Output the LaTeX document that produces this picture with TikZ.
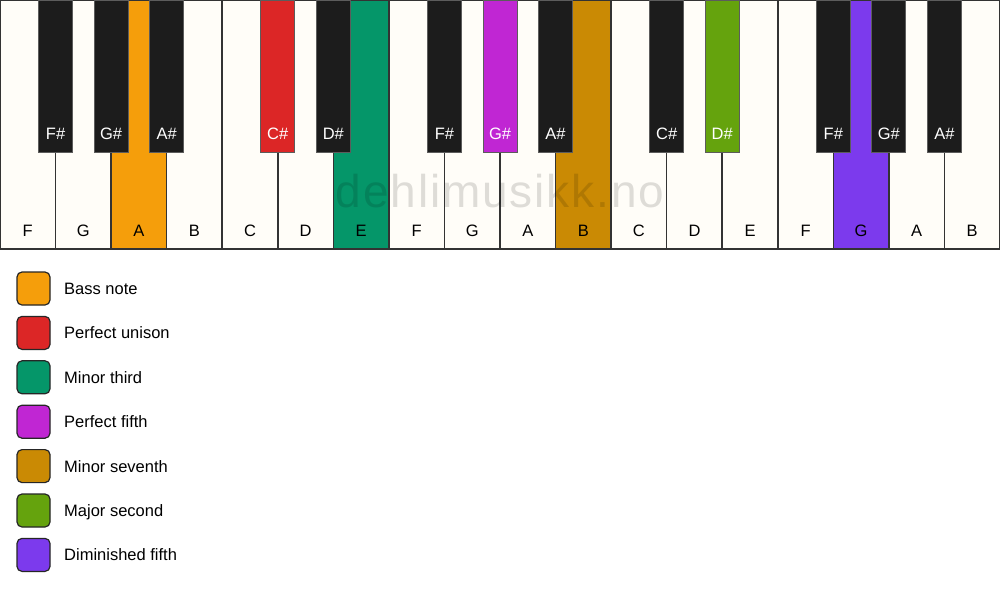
\documentclass[tikz,border=0pt]{standalone}
\usepackage{fontspec}
\setmainfont{Liberation Sans}
\newfontfamily\wmfont[LetterSpace=4]{Liberation Sans}
\definecolor{ivory}{HTML}{FFFDF8}
\definecolor{keyblack}{HTML}{1C1C1C}
\definecolor{edge}{HTML}{333333}
\definecolor{cbass}{HTML}{F59E0B}
\definecolor{cunison}{HTML}{DC2626}
\definecolor{cminthird}{HTML}{059669}
\definecolor{cfifth}{HTML}{C026D3}
\definecolor{cminsev}{HTML}{CA8A04}
\definecolor{cmajsec}{HTML}{65A30D}
\definecolor{cdimfifth}{HTML}{7C3AED}
\tikzset{
  wkey/.style={rectangle, draw=edge, line width=1.5pt, minimum width=55.556pt, minimum height=248.5pt, inner sep=0pt},
  bkey/.style={rectangle, draw=edge!80, line width=1pt, minimum width=34pt, minimum height=152pt, inner sep=0pt},
  wlab/.style={anchor=base, inner sep=0pt, font=\fontsize{16.5}{18}\selectfont, text=black},
  blab/.style={anchor=base, inner sep=0pt, font=\fontsize{16.5}{18}\selectfont, text=white},
  legbox/.style={rectangle, rounded corners=5pt, draw=black!85, line width=1.2pt, minimum width=33pt, minimum height=33pt, inner sep=0pt},
  legtext/.style={anchor=base west, inner sep=0pt, font=\fontsize{16.5}{18}\selectfont, text=black},
}
\begin{document}
\begin{tikzpicture}[x=1pt,y=-1pt]
\fill[white] (0,0) rectangle (1000,594);
\useasboundingbox (0,0) rectangle (1000,594);
% white keys
\foreach \i/\n/\c in {0/F/ivory,1/G/ivory,2/A/cbass,3/B/ivory,4/C/ivory,5/D/ivory,6/E/cminthird,7/F/ivory,8/G/ivory,9/A/ivory,10/B/cminsev,11/C/ivory,12/D/ivory,13/E/ivory,14/F/ivory,15/G/cdimfifth,16/A/ivory,17/B/ivory}{
  \node[wkey, fill=\c] (w\i) at ({(\i+0.5)*55.556}, 124.75) {};
}
% watermark
\node[anchor=base, inner sep=0pt, text=black, text opacity=0.13, font=\wmfont\fontsize{46}{50}\selectfont] (wm) at (500, 207.7) {dehlimusikk.no};
% white key labels
\foreach \i/\n in {0/F,1/G,2/A,3/B,4/C,5/D,6/E,7/F,8/G,9/A,10/B,11/C,12/D,13/E,14/F,15/G,16/A,17/B}{
  \node[wlab] (wl\i) at ({(\i+0.5)*55.556}, 236) {\n};
}
% black keys
\foreach \i/\n/\c in {0/F\#/keyblack,1/G\#/keyblack,2/A\#/keyblack,4/C\#/cunison,5/D\#/keyblack,7/F\#/keyblack,8/G\#/cfifth,9/A\#/keyblack,11/C\#/keyblack,12/D\#/cmajsec,14/F\#/keyblack,15/G\#/keyblack,16/A\#/keyblack}{
  \node[bkey, fill=\c] (b\i) at ({(\i+1)*55.556}, 76.5) {};
  \node[blab] (bl\i) at ({(\i+1)*55.556}, 139) {\n};
}
% legend
\foreach \k/\c/\t in {0/cbass/Bass note,1/cunison/Perfect unison,2/cminthird/Minor third,3/cfifth/Perfect fifth,4/cminsev/Minor seventh,5/cmajsec/Major second,6/cdimfifth/Diminished fifth}{
  \node[legbox, fill=\c] (lb\k) at (33.5, {288.5+\k*44.4}) {};
  \node[legtext] (lt\k) at (64, {294.5+\k*44.4}) {\t};
}
\end{tikzpicture}
\end{document}
